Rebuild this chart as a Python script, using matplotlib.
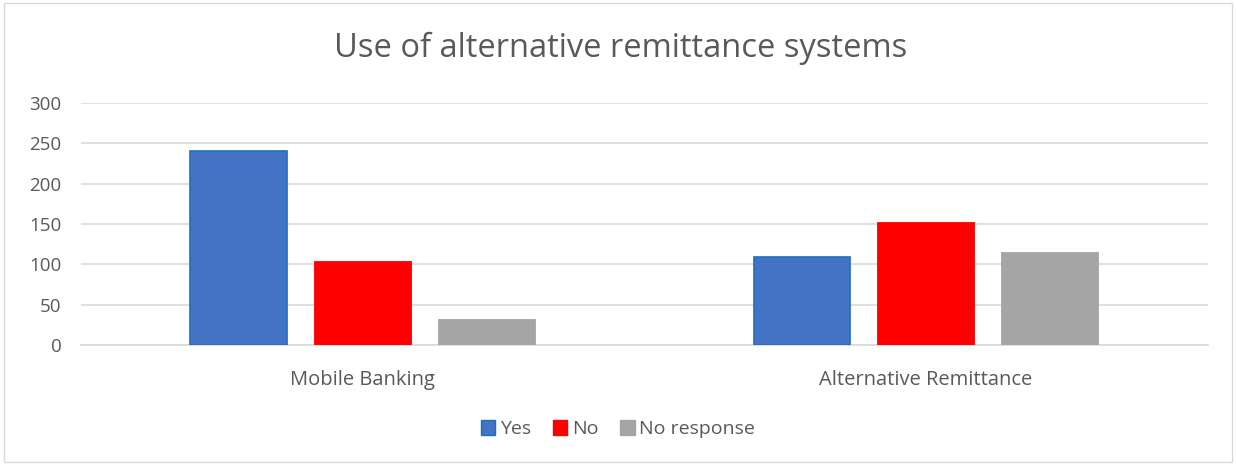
import numpy as np
import matplotlib.pyplot as plt
import matplotlib.patches as mpatches

# data
categories = ["Mobile Banking", "Alternative Remittance"]
series_names = ["Yes", "No", "No response"]
yes_vals = [241, 109]
no_vals = [104, 152]
noresp_vals = [32, 115]
y_ticks = [0, 50, 100, 150, 200, 250, 300]

colors = ["#4472C4", "#FF0000", "#A5A5A5"]
edges = ["#1F6FBF", "#FF0000", "#A5A5A5"]
text_col = "#595959"
grid_col = "#D9D9D9"

plt.rcParams["font.family"] = ["Open Sans", "DejaVu Sans"]

fig = plt.figure(figsize=(12.36, 4.65), dpi=100, facecolor="white")
ax = fig.add_axes([0.0655, 0.258, 0.9115, 0.5205])

x = np.arange(len(categories))
width = 0.172
offset = 0.22
for i, (name, vals) in enumerate(zip(series_names, [yes_vals, no_vals, noresp_vals])):
    ax.bar(x + (i - 1) * offset, vals, width, color=colors[i],
           edgecolor=edges[i], linewidth=1.2 if i == 0 else 0.6,
           label=name, zorder=3)

ax.set_xlim(-0.5, len(categories) - 0.5)
ax.set_ylim(0, 300)
ax.set_yticks(y_ticks)
ax.set_xticks(x)
ax.set_xticklabels(categories)
ax.yaxis.grid(True, color=grid_col, lw=1.2, zorder=0)
ax.set_axisbelow(True)
for s in ["top", "right", "left"]:
    ax.spines[s].set_visible(False)
ax.spines["bottom"].set_color(grid_col)
ax.spines["bottom"].set_linewidth(1.2)
ax.tick_params(axis="both", length=0, colors=text_col)
ax.tick_params(axis="x", pad=18, labelsize=14.5)
ax.tick_params(axis="y", pad=14, labelsize=13.5)

fig.text(0.502, 0.897, "Use of alternative remittance systems",
         ha="center", va="center", fontsize=23.5, color=text_col)

handles = [mpatches.Patch(facecolor=colors[i], edgecolor=edges[i], label=n)
           for i, n in enumerate(series_names)]
leg = fig.legend(handles=handles, loc="center", bbox_to_anchor=(0.5, 0.077),
                 ncol=3, frameon=False, fontsize=14, handlelength=0.75,
                 handleheight=0.75, handletextpad=0.25, columnspacing=1.1)
for t in leg.get_texts():
    t.set_color(text_col)

# light chart-area border
fig.patches.append(mpatches.Rectangle((0.003, 0.006), 0.994, 0.988,
                                      transform=fig.transFigure, fill=False,
                                      edgecolor=grid_col, lw=1))

fig.savefig("out.png", dpi=100, facecolor="white")
